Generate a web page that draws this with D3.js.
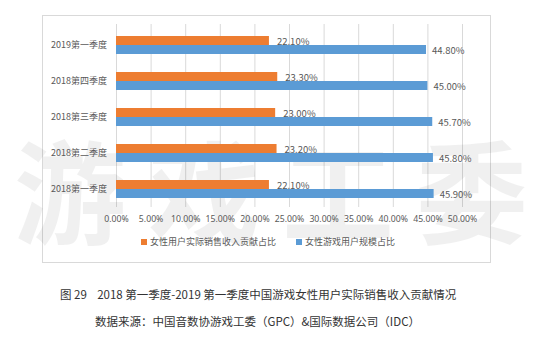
<!DOCTYPE html>
<html>
<head>
<meta charset="utf-8">
<script src="https://cdn.jsdelivr.net/npm/d3@7"></script>
<style>
  body { margin: 0; background: #fff; }
  svg { display: block; font-family: 'Noto Sans CJK SC', 'Noto Sans', sans-serif; }
</style>
</head>
<body>
<svg id="chart" width="540" height="353"></svg>
<script>
// data, top category first
const categories = ['2019第一季度', '2018第四季度', '2018第三季度', '2018第二季度', '2018第一季度']
const revenueShare = [22.1, 23.3, 23.0, 23.2, 22.1]
const userShare = [44.8, 45.0, 45.7, 45.8, 45.9]
const seriesNames = ['女性用户实际销售收入贡献占比', '女性游戏用户规模占比']
const xTicks = [0, 5, 10, 15, 20, 25, 30, 35, 40, 45, 50]

const colors = ['#ED7D31', '#5B9BD5']
const svg = d3.select('#chart')

// chart frame
svg.append('rect')
  .attr('x', 42.5).attr('y', 15.5)
  .attr('width', 448).attr('height', 247)
  .attr('fill', '#fff').attr('stroke', '#d9d9d9')

const x = d3.scaleLinear().domain([0, 50]).range([116, 462])
const y = d3.scaleBand().domain(categories).range([27, 207]).paddingInner(0.5).paddingOuter(0.25)
const sub = d3.scaleBand().domain([0, 1]).range([0, y.bandwidth()])

// gridlines
svg.append('g').selectAll('line')
  .data(xTicks)
  .enter().append('line')
  .attr('x1', d => x(d) + 0.5).attr('x2', d => x(d) + 0.5)
  .attr('y1', 24).attr('y2', 207)
  .attr('stroke', '#d9d9d9')

// watermark
svg.append('text')
  .attr('x', 14).attr('y', 236)
  .attr('font-size', 112).attr('font-weight', 'bold')
  .attr('letter-spacing', 22)
  .attr('fill', '#000').attr('fill-opacity', 0.06)
  .text('游戏工委')

const rows = categories.map((c, i) => ({ cat: c, vals: [revenueShare[i], userShare[i]] }))

const grp = svg.append('g').selectAll('g')
  .data(rows)
  .enter().append('g')
  .attr('transform', d => 'translate(0,' + y(d.cat) + ')')

grp.selectAll('rect')
  .data(d => d.vals)
  .enter().append('rect')
  .attr('x', x(0))
  .attr('y', (d, i) => sub(i))
  .attr('width', d => x(d) - x(0))
  .attr('height', sub.bandwidth())
  .attr('fill', (d, i) => colors[i])

grp.selectAll('text')
  .data(d => d.vals)
  .enter().append('text')
  .attr('x', (d, i) => x(d) + (i === 0 ? 8 : 6))
  .attr('y', (d, i) => sub(i) + sub.bandwidth() / 2 + 1)
  .attr('dy', '0.35em')
  .attr('font-size', 9.5)
  .attr('fill', '#595959')
  .text(d => d.toFixed(2) + '%')

// category labels
svg.append('g').selectAll('text')
  .data(categories)
  .enter().append('text')
  .attr('x', 107)
  .attr('y', d => y(d) + y.bandwidth() / 2)
  .attr('dy', '0.35em')
  .attr('text-anchor', 'end')
  .attr('font-size', 9)
  .attr('fill', '#595959')
  .text(d => d)

// x axis labels
const xAxis = d3.axisBottom(x).tickValues(xTicks).tickSize(0).tickPadding(9)
  .tickFormat(d => d.toFixed(2) + '%')
const ax = svg.append('g').attr('transform', 'translate(0,207)').call(xAxis)
ax.select('.domain').remove()
ax.selectAll('text').attr('font-size', 8.7).attr('fill', '#595959')
  .attr('font-family', "'Noto Sans', sans-serif")

// legend
const legendX = [141, 296]
const leg = svg.append('g').selectAll('g')
  .data(seriesNames)
  .enter().append('g')
  .attr('transform', (d, i) => 'translate(' + legendX[i] + ',242)')
leg.append('rect').attr('x', 0).attr('y', -3).attr('width', 6).attr('height', 6)
  .attr('fill', (d, i) => colors[i])
leg.append('text').attr('x', 9).attr('dy', '0.35em')
  .attr('font-size', 9).attr('fill', '#595959')
  .text(d => d)

// caption and source
svg.append('text')
  .attr('x', 60).attr('y', 299)
  .attr('font-size', 11.5).attr('fill', '#333')
  .attr('xml:space', 'preserve')
  .text('图 29    2018 第一季度-2019 第一季度中国游戏女性用户实际销售收入贡献情况')

svg.append('text')
  .attr('x', 95).attr('y', 326)
  .attr('font-size', 11.5).attr('fill', '#333')
  .text('数据来源：中国音数协游戏工委（GPC）&国际数据公司（IDC）')
</script>
</body>
</html>
